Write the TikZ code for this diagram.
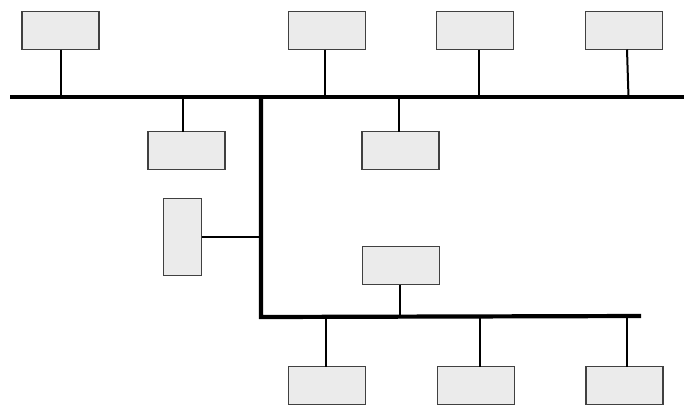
\documentclass[tikz,border=0pt]{standalone}
\begin{document}
\begin{tikzpicture}[x=1bp,y=-1bp,
  box/.style={draw=black!75,line width=1.1bp,fill=boxgray,inner sep=0pt,outer sep=0pt,
    minimum width=77bp,minimum height=38bp},
  vbox/.style={box,minimum width=38bp,minimum height=77bp},
  bus/.style={line width=4.2bp,black},
  stub/.style={line width=2bp,black}]
\definecolor{boxgray}{HTML}{EBEBEB}
\useasboundingbox[fill=white] (0,0) rectangle (684,406);
% top boxes
\node[box] (a1) at (60.5,30.5) {};
\node[box] (a2) at (327,30.5) {};
\node[box] (a3) at (475,30.5) {};
\node[box] (a4) at (624,30.5) {};
% boxes below main bus
\node[box] (b1) at (186.5,150.5) {};
\node[box] (b2) at (400.5,150.5) {};
% side box
\node[vbox] (v1) at (182.5,237) {};
% box above lower bus
\node[box] (c1) at (401,265.5) {};
% bottom boxes
\node[box] (d1) at (327,385.5) {};
\node[box] (d2) at (476,385.5) {};
\node[box] (d3) at (624.5,385.5) {};
% bus coordinates
\coordinate (mL) at (10,97);
\coordinate (mR) at (684,97);
\coordinate (vT) at (261,97);
\coordinate (vB) at (261,317);
\coordinate (lR) at (641,316);
% stub points on buses
\coordinate (ta1) at (61,97);
\coordinate (ta2) at (325,97);
\coordinate (ta3) at (479,97);
\coordinate (ta4) at (628.5,97);
\coordinate (tb1) at (183,97);
\coordinate (tb2) at (399,97);
\coordinate (tv1) at (261,237);
\coordinate (tc1) at (400,316.5);
\coordinate (td1) at (326,316.8);
\coordinate (td2) at (480,316.5);
\coordinate (td3) at (627,316);
% stubs
\draw[stub] (a1.south -| ta1) -- (ta1);
\draw[stub] (a2.south -| ta2) -- (ta2);
\draw[stub] (a3.south -| ta3) -- (ta3);
\draw[stub] ([xshift=-1.5bp]a4.south -| ta4) -- (ta4);
\draw[stub] (b1.north -| tb1) -- (tb1);
\draw[stub] (b2.north -| tb2) -- (tb2);
\draw[stub] (v1.east |- tv1) -- (tv1);
\draw[stub] (c1.south -| tc1) -- (tc1);
\draw[stub] (d1.north -| td1) -- (td1);
\draw[stub] (d2.north -| td2) -- (td2);
\draw[stub] (d3.north -| td3) -- (td3);
% buses
\draw[bus] (mL) -- (mR);
\draw[bus,line join=miter] (vT) -- (vB) -- (lR);
\end{tikzpicture}
\end{document}
